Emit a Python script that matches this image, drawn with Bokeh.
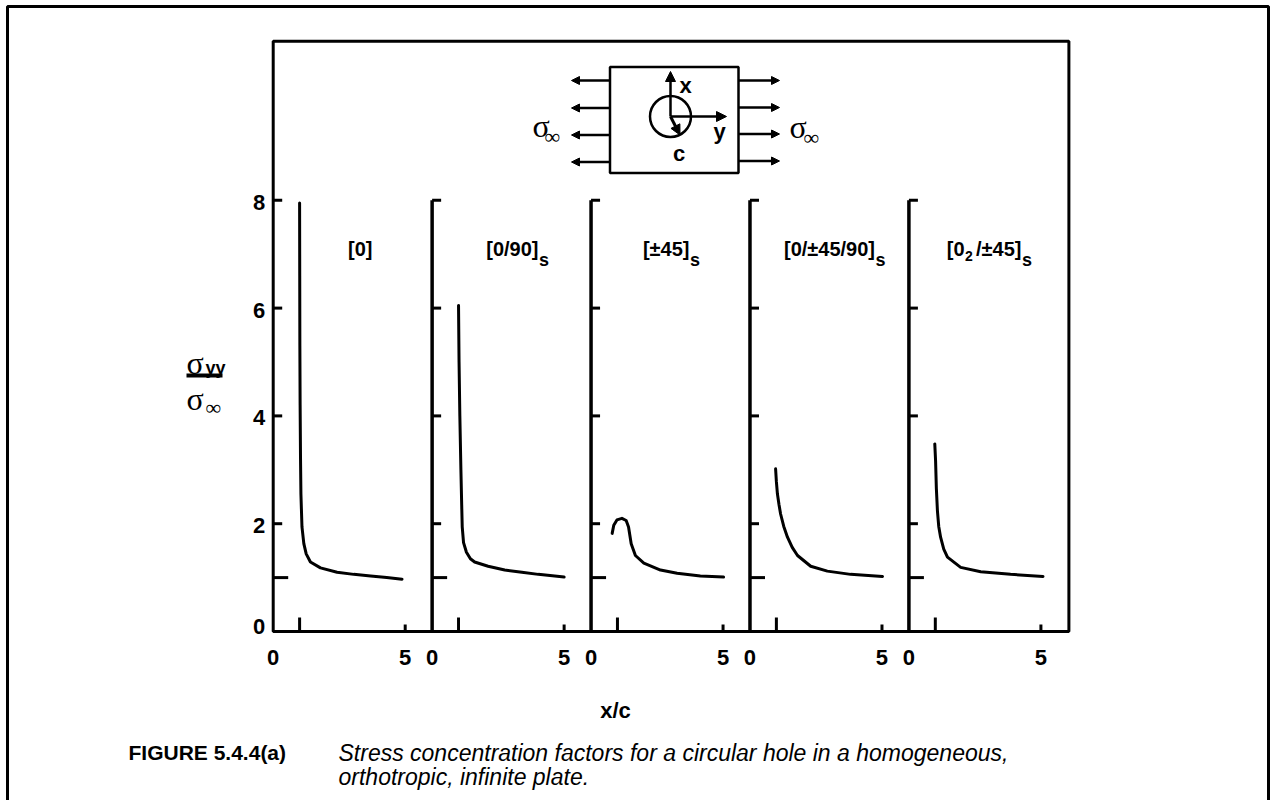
import numpy as np
from bokeh.plotting import figure
from bokeh.models import Range1d, Arrow, NormalHead
from bokeh.core.properties import value
from bokeh.embed import file_html
from bokeh.resources import INLINE

# ---------------------------------------------------------------------------
# Normalised stress sigma_yy / sigma_inf ahead of the hole, versus x/c
# ---------------------------------------------------------------------------
xc_0 = [1.00, 1.005, 1.01, 1.02, 1.035, 1.05, 1.09, 1.16, 1.25, 1.41, 1.79, 2.42, 3.05, 3.69, 4.30, 4.88]
s_0 = [7.95, 6.60, 5.30, 4.20, 3.20, 2.55, 1.94, 1.63, 1.44, 1.29, 1.18, 1.10, 1.06, 1.03, 1.00, 0.97]

xc_0_90 = [1.00, 1.02, 1.05, 1.09, 1.12, 1.14, 1.19, 1.30, 1.45, 1.61, 2.12, 2.75, 3.40, 4.02, 5.00]
s_0_90 = [6.05, 5.00, 4.00, 3.00, 2.35, 1.94, 1.65, 1.47, 1.35, 1.29, 1.21, 1.14, 1.10, 1.06, 1.01]

xc_pm45 = [0.80, 0.86, 0.98, 1.17, 1.33, 1.42, 1.52, 1.68, 2.00, 2.63, 3.26, 4.14, 5.02]
s_pm45 = [1.82, 1.97, 2.07, 2.10, 2.06, 1.94, 1.63, 1.41, 1.27, 1.14, 1.08, 1.03, 1.01]

xc_quasi = [0.97, 1.00, 1.04, 1.10, 1.16, 1.28, 1.42, 1.60, 1.80, 2.30, 2.93, 3.81, 5.02]
s_quasi = [3.02, 2.78, 2.55, 2.35, 2.18, 1.95, 1.75, 1.56, 1.41, 1.21, 1.12, 1.06, 1.02]

xc_02_pm45 = [0.98, 1.01, 1.04, 1.08, 1.13, 1.20, 1.32, 1.46, 1.96, 2.72, 3.85, 5.08]
s_02_pm45 = [3.48, 3.17, 2.65, 2.24, 1.95, 1.75, 1.53, 1.38, 1.19, 1.11, 1.06, 1.02]

curves_x = [xc_0, xc_0_90, xc_pm45, xc_quasi, xc_02_pm45]
curves_s = [s_0, s_0_90, s_pm45, s_quasi, s_02_pm45]

y_ticks = [0, 2, 4, 6, 8]
y_tick_labels = ["0", "2", "4", "6", "8"]
far_field = 1.0          # sigma_yy / sigma_inf far from the hole
x_ticks = [0, 5]
x_tick_labels = ["0", "5"]
hole_edge = 1.0          # x/c at the edge of the hole
y_axis_top = 8

# ---------------------------------------------------------------------------
# Page layout (pixels) and the data scales of the panels
# ---------------------------------------------------------------------------
W, H = 1270, 800
X_ORIGIN = 272.7        # page x of x/c = 0 in the first panel
Y_ORIGIN = 631.0        # page y of a stress ratio of 0
PX_X = 26.4             # pixels per unit of x/c
PX_Y = 53.9             # pixels per unit of stress ratio
STEP = 6.02             # panel spacing, in x/c units
FRAME_RIGHT = 5 * STEP + 0.04
FRAME_TOP = 10.95
offsets = [k * STEP for k in range(5)]

BLACK = "#000000"
SANS = value("Liberation Sans")
SERIF = value("Liberation Serif")

p = figure(
    width=W, height=H, title=None,
    x_range=Range1d(0, W), y_range=Range1d(H, 0),
    output_backend="svg", toolbar_location=None,
    x_axis_location=None, y_axis_location=None, min_border=0,
)
p.extra_x_ranges = {"xc": Range1d(-X_ORIGIN / PX_X, (W - X_ORIGIN) / PX_X)}
p.extra_y_ranges = {"s": Range1d(-(H - Y_ORIGIN) / PX_Y, Y_ORIGIN / PX_Y)}
p.outline_line_color = None
p.background_fill_color = "white"
p.border_fill_color = "white"
p.grid.visible = False

D = dict(x_range_name="xc", y_range_name="s")

# page border (open at the bottom)
p.line([7, 7, 1268, 1268], [H, 6, 6, H], line_color=BLACK, line_width=3)

# plot frame
p.quad(left=[0], right=[FRAME_RIGHT], bottom=[0], top=[FRAME_TOP],
       fill_color=None, line_color=BLACK, line_width=3, **D)

# vertical axes of panels 2..5
p.segment(x0=offsets[1:], y0=[0] * 4, x1=offsets[1:], y1=[y_axis_top] * 4,
          line_color=BLACK, line_width=3.5, **D)

# y ticks (pointing inwards), a longer one at the far-field level
yt_x = [o for o in offsets for t in y_ticks if t > 0]
yt_y = [t for o in offsets for t in y_ticks if t > 0]
p.ray(x=yt_x, y=yt_y, length=9, length_units="screen", angle=0,
      line_color=BLACK, line_width=3, **D)
p.ray(x=offsets, y=[far_field] * 5, length=15, length_units="screen", angle=0,
      line_color=BLACK, line_width=3, **D)

# x ticks: at x/c = 5 and a taller mark at the hole edge
p.ray(x=[o + x_ticks[1] for o in offsets], y=[0] * 5, length=7, length_units="screen",
      angle=np.pi / 2, line_color=BLACK, line_width=3, **D)
p.ray(x=[o + hole_edge for o in offsets], y=[0] * 5, length=14, length_units="screen",
      angle=np.pi / 2, line_color=BLACK, line_width=3, **D)

# tick labels
p.text(x=[o + t for o in offsets for t in x_ticks], y=[0] * 10,
       text=[lab for o in offsets for lab in x_tick_labels],
       y_offset=26, text_align="center", text_baseline="alphabetic",
       text_font=SANS, text_font_style="bold", text_font_size="22px", text_color=BLACK, **D)
p.text(x=[0] * len(y_ticks), y=y_ticks, text=y_tick_labels,
       x_offset=-8, y_offset=[-5.5 if t == 0 else 2 for t in y_ticks],
       text_align="right", text_baseline="middle",
       text_font=SANS, text_font_style="bold", text_font_size="22px", text_color=BLACK, **D)

# stress curves
for off, xs, ss in zip(offsets, curves_x, curves_s):
    p.line([off + v for v in xs], ss, line_color=BLACK, line_width=3,
           line_join="round", line_cap="round", **D)

# lay-up labels (page positions, with subscripts)
def label(xs, ys, texts, size, align):
    p.text(x=xs, y=ys, text=texts, text_align=align, text_baseline="alphabetic",
           text_font=SANS, text_font_style="bold", text_font_size=size, text_color=BLACK)

sub_x = [538, 689, 874.5, 1021]
label([347.5], [248], ["[0]"], "20px", "left")
label(sub_x, [248] * 4, ["[0/90]", "[±45]", "[0/±45/90]", "/±45]"], "20px", "right")
label([964], [248], ["[0"], "20px", "right")
label([x + 0.5 for x in sub_x], [259.5] * 4, ["s"] * 4, "18px", "left")
label([964.5], [255], ["2"], "14px", "left")

# loading sketch: plate, hole, co-ordinate axes and edge tractions
p.quad(left=[609.5], right=[738], top=[66.5], bottom=[172.5],
       fill_color=None, line_color=BLACK, line_width=2.5)
p.circle(x=[670], y=[116], radius=20.5, fill_color=None, line_color=BLACK, line_width=2.5)

def arrow(x0, y0, x1, y1, w=2.5, size=8):
    p.add_layout(Arrow(end=NormalHead(size=size, line_color=BLACK, fill_color=BLACK, line_width=1),
                       x_start=x0, y_start=y0, x_end=x1, y_end=y1,
                       line_color=BLACK, line_width=w))

for yy in [80, 107.5, 134.5, 161.5]:
    arrow(609.5, yy, 571, yy)
for yy in [80, 107, 133.5, 160.5]:
    arrow(738, yy, 779, yy)
arrow(670, 116, 670, 71, size=10)
arrow(670, 116, 726, 116, size=10)
arrow(670, 116, 679.5, 134.5, w=3, size=10)

p.text(x=[685, 719, 678.5], y=[85, 131, 153], text=["x", "y", "c"],
       text_align="center", text_baseline="alphabetic",
       text_font=SANS, text_font_style="bold", text_font_size="22px", text_color=BLACK)

# sigma_inf labels of the sketch and the y label
p.text(x=[532, 789, 186, 186], y=[125, 126, 362, 398], text=["σ", "σ", "σ", "σ"],
       text_align="left", text_baseline="alphabetic",
       text_font=SERIF, text_font_size="32px", text_color=BLACK)
p.text(x=[544, 803, 205], y=[136, 137, 406.5], text=["∞", "∞", "∞"],
       text_align="left", text_baseline="alphabetic",
       text_font=SERIF, text_font_size="22px", text_color=BLACK)
p.text(x=[205], y=[367], text=["yy"], text_align="left", text_baseline="alphabetic",
       text_font=SANS, text_font_style="bold", text_font_size="18px", text_color=BLACK)
p.segment(x0=[186], y0=[375], x1=[222], y1=[375], line_color=BLACK, line_width=4)

# x label and caption
p.text(x=[615], y=[710], text=["x/c"], text_align="center", text_baseline="alphabetic",
       text_font=SANS, text_font_style="bold", text_font_size="22px", text_color=BLACK)
p.text(x=[128], y=[752], text=["FIGURE 5.4.4(a)"], text_align="left", text_baseline="alphabetic",
       text_font=SANS, text_font_style="bold", text_font_size="21px", text_color=BLACK)
p.text(x=[338, 338], y=[752, 776],
       text=["Stress concentration factors for a circular hole in a homogeneous,",
             "orthotropic, infinite plate."],
       text_align="left", text_baseline="alphabetic",
       text_font=SANS, text_font_style="italic", text_font_size="23px", text_color=BLACK)

open("out.html", "w").write(file_html(p, INLINE))
